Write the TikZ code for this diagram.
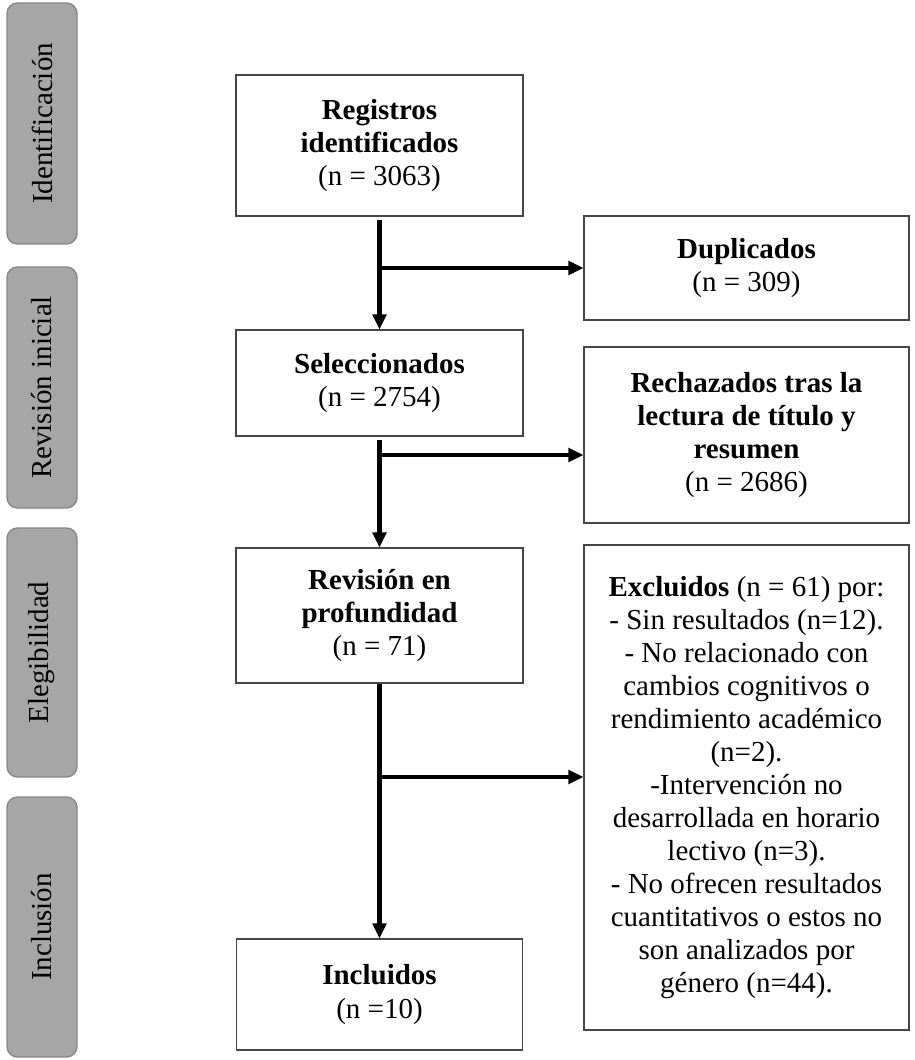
\documentclass[tikz,border=0pt]{standalone}
\usepackage{fontspec}
\setmainfont{Liberation Serif}
\usetikzlibrary{arrows.meta}

\begin{document}
\begin{tikzpicture}[scale=1,font=\fontsize{16.5pt}{18.8pt}\selectfont]

\definecolor{box_node_fill}{RGB}{255,255,255}
\definecolor{box_node_text}{RGB}{0,0,0}
\definecolor{box_node_draw}{RGB}{70,70,70}
\tikzstyle{box_node_style}=[rectangle,draw=box_node_draw,fill=box_node_fill,text=box_node_text,line width = 0.6pt,align=center,inner sep=0pt]

\definecolor{stage_node_fill}{RGB}{166,166,166}
\definecolor{stage_node_draw}{RGB}{135,135,135}
\tikzstyle{stage_node_style}=[rectangle,rounded corners = 6,draw=stage_node_draw,fill=stage_node_fill,text=black,line width = 0.8pt,rotate=90,minimum height=1.4cm]

\definecolor{arrow_edge_draw}{RGB}{0,0,0}
\tikzstyle{arrow_edge_style}=[draw=arrow_edge_draw,line width = 2.4pt,>={Triangle[length=0.3cm,width=0.27cm]}]

\useasboundingbox (0,0) rectangle (18.28,-21.2);

\node(identificacion) at (0.84,-2.47) [stage_node_style,minimum width=4.82cm] {Identificación};
\node(revinicial) at (0.84,-7.75) [stage_node_style,minimum width=4.82cm] {Revisión inicial};
\node(elegibilidad) at (0.84,-13.05) [stage_node_style,minimum width=4.98cm] {Elegibilidad};
\node(inclusion) at (0.84,-18.54) [stage_node_style,minimum width=5.2cm] {Inclusión};

\node(registros) at (7.59,-2.91) [box_node_style,minimum width=5.74cm,minimum height=2.82cm] {\textbf{Registros}\\\textbf{identificados}\\(n = 3063)};

\node(seleccionados) at (7.59,-7.66) [box_node_style,minimum width=5.74cm,minimum height=2.12cm] {\textbf{Seleccionados}\\(n = 2754)};

\node(revision) at (7.59,-12.31) [box_node_style,minimum width=5.74cm,minimum height=2.70cm] {\textbf{Revisión en}\\\textbf{profundidad}\\(n = 71)};

\node(incluidos) at (7.59,-19.89) [box_node_style,minimum width=5.72cm,minimum height=2.22cm] {\textbf{Incluidos}\\(n =10)};

\node(duplicados) at (14.93,-5.36) [box_node_style,minimum width=6.5cm,minimum height=2.08cm] {\textbf{Duplicados}\\(n = 309)};

\node(rechazados) at (14.93,-8.70) [box_node_style,minimum width=6.5cm,minimum height=3.52cm] {\textbf{Rechazados tras la}\\\textbf{lectura de título y}\\\textbf{resumen}\\(n = 2686)};

\node(excluidos) at (14.93,-15.75) [box_node_style,minimum width=6.5cm,minimum height=9.70cm] {\textbf{Excluidos} (n = 61) por:\\- Sin resultados (n=12).\\- No relacionado con\\cambios cognitivos o\\rendimiento académico\\(n=2).\\-Intervención no\\desarrollada en horario\\lectivo (n=3).\\- No ofrecen resultados\\cuantitativos o estos no\\son analizados por\\género (n=44).};

\coordinate(split_a) at (7.59,-5.36);
\coordinate(split_b) at (7.59,-9.10);
\coordinate(split_c) at (7.59,-15.54);

\draw[->,arrow_edge_style,shorten <=2pt](registros) -- (seleccionados);
\draw[->,arrow_edge_style,shorten <=2pt](seleccionados) -- (revision);
\draw[->,arrow_edge_style](revision) -- (incluidos);
\draw[->,arrow_edge_style](split_a) -- (duplicados);
\draw[->,arrow_edge_style](split_b) -- (split_b -| rechazados.west);
\draw[->,arrow_edge_style](split_c) -- (split_c -| excluidos.west);

\end{tikzpicture}
\end{document}
